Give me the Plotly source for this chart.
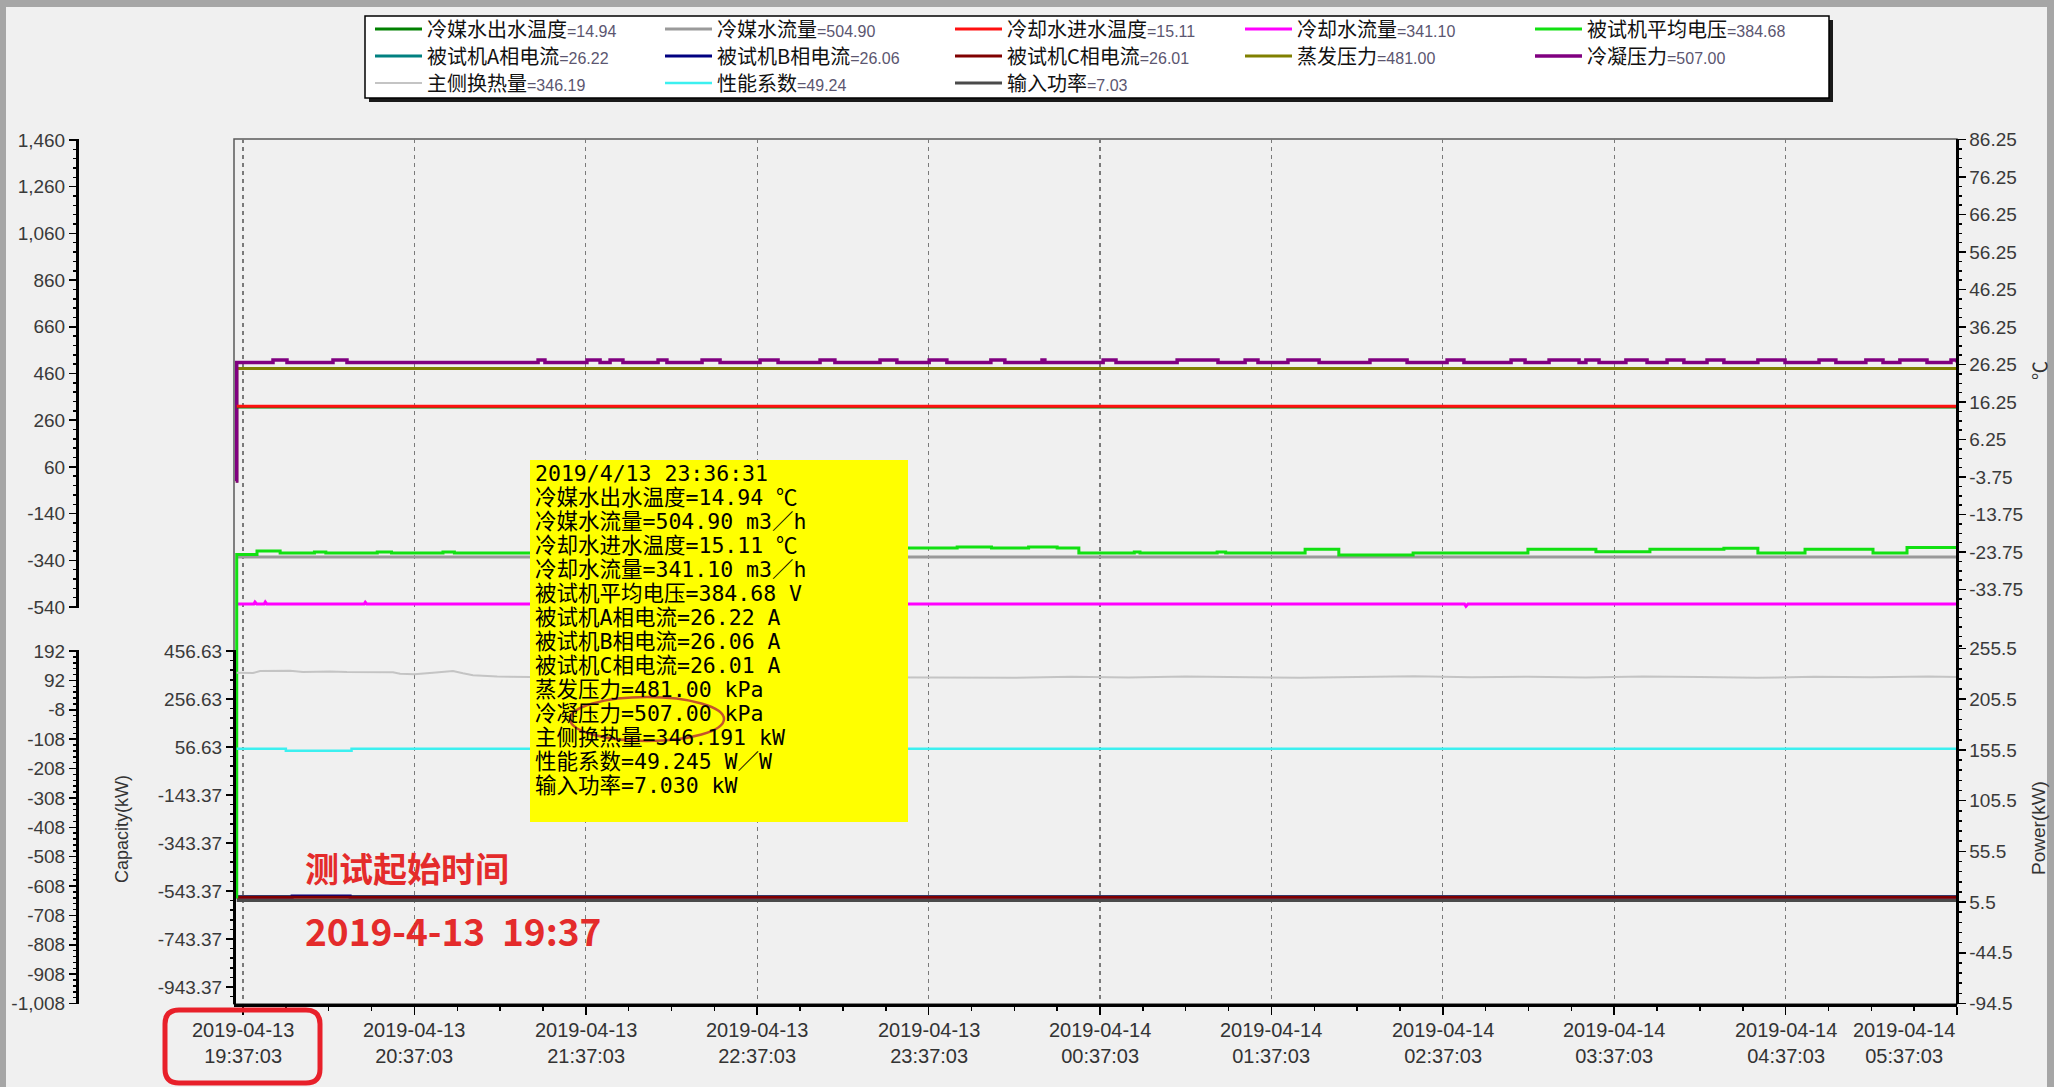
import pandas as pd
import plotly.graph_objects as go

# ---------------------------------------------------------------------------
# Data: chiller test log, 2019-04-13 19:37 to 2019-04-14 05:37
# time is given in minutes after 2019-04-13 19:37:03
# ---------------------------------------------------------------------------
START = pd.Timestamp("2019-04-13 19:37:03")

names = ["冷媒水出水温度", "冷媒水流量", "冷却水进水温度", "冷却水流量", "被试机平均电压",
         "被试机A相电流", "被试机B相电流", "被试机C相电流", "蒸发压力", "冷凝压力",
         "主侧换热量", "性能系数", "输入功率"]
units = ["℃", "m3／h", "℃", "m3／h", "V", "A", "A", "A", "kPa", "kPa", "kW", "W／W", "kW"]
# readout at the cursor time
cursor_time = "2019/4/13 23:36:31"
cursor_min = 239.47
cursor_vals = [14.94, 504.90, 15.11, 341.10, 384.68, 26.22, 26.06, 26.01,
               481.00, 507.00, 346.191, 49.245, 7.030]
cursor_decimals = [2, 2, 2, 2, 2, 2, 2, 2, 2, 2, 3, 3, 3]

chw_out_min = [-2.2, 600]
chw_out_c = [14.94, 14.94]

chw_flow_min = [-2.2, 600]
chw_flow = [504.90, 504.90]

cw_in_min = [-2.2, 600]
cw_in_c = [15.11, 15.11]

cw_flow_min = [-2.2, 3.8, 4.2, 4.8, 7.4, 7.8, 8.3, 42.4, 42.8, 43.3, 427.6, 428.1, 428.8, 600]
cw_flow = [341.1, 341.1, 348.0, 341.1, 341.1, 348.0, 341.1, 341.1, 347.0, 341.1,
           341.1, 333.0, 341.1, 341.1]

volt_min = [-2.55, -2.2, 4.9, 13.0, 25, 29, 47, 52, 70, 74, 180, 250, 262, 275, 285,
            292.6, 312, 314, 341, 344, 371.8, 383.6, 409.6, 449.8, 473.6, 492.5,
            518.4, 530.3, 546.8, 570.6, 582.5, 600]
volt_v = [0, 377.5, 381.4, 379.1, 380.2, 379.1, 380.2, 379.1, 380.2, 379.1, 384.68,
          385.8, 384.68, 385.8, 384.68, 379.1, 380.2, 379.1, 380.2, 379.1, 383.2,
          376.9, 379.1, 383.2, 380.6, 383.2, 384.4, 379.1, 383.2, 379.1, 385.1, 385.1]

amp_a_min = [-2.2, 600]
amp_a = [26.22, 26.22]
amp_b_min = [-2.2, 17.2, 37.5, 600]
amp_b = [26.06, 26.45, 26.06, 26.06]
amp_c_min = [-2.2, 600]
amp_c = [26.01, 26.01]

evap_min = [-2.55, -2.2, 600]
evap_kpa = [0, 481.0, 481.0]

cond_min = [-2.55, -2.2,
            10.5, 15.4, 31.5, 36.4, 103.3, 105.7, 120.4, 125.0, 128.5, 133.0,
            145.3, 148.4, 160.7, 167.0, 181.0, 187.3, 202.0, 207.2, 223.0, 228.9,
            240.2, 246.4, 261.8, 266.7, 279.7, 280.7, 301.1, 305.6, 327.0, 341.3,
            350.8, 355.3, 365.8, 376.7, 394.5, 407.5, 421.5, 427.4, 443.9, 448.8,
            457.2, 467.7, 470.1, 474.7, 484.1, 491.5, 498.5, 504.4, 512.5, 518.4,
            530.3, 539.8, 551.7, 557.6, 568.1, 574.1, 580.0, 589.5, 597.9, 600]
cond_kpa = [0, 507] + [518, 507] * 30

heat_min = [-2.2, 3.5, 6, 16.5, 21, 30.5, 36.4, 52.5, 55, 60, 66.5, 73.5, 77, 80.5, 89,
            100.5, 160, 233, 239.47, 250, 270, 290, 310, 330, 350, 370, 390, 410,
            430, 450, 470, 490, 510, 530, 550, 570, 590, 600]
heat_kw = [366, 365, 373, 374, 369, 371, 369, 368, 362, 360, 366, 373, 364, 356, 350,
           348, 349, 347, 346.191, 348, 345, 349, 346, 350, 347, 345, 348, 351,
           347, 349, 346, 350, 348, 345, 349, 347, 350, 348]

cop_min = [-2.2, 15, 38, 600]
cop = [49.245, 40.8, 49.245, 49.245]

power_min = [-2.2, 600]
power_kw = [7.03, 7.03]

# axis tick values
pressure_ticks = [1460, 1260, 1060, 860, 660, 460, 260, 60, -140, -340, -540]
flow_ticks = [192, 92, -8, -108, -208, -308, -408, -508, -608, -708, -808, -908, -1008]
capacity_ticks = [456.63, 256.63, 56.63, -143.37, -343.37, -543.37, -743.37, -943.37]
temp_ticks = [86.25, 76.25, 66.25, 56.25, 46.25, 36.25, 26.25, 16.25, 6.25,
              -3.75, -13.75, -23.75, -33.75]
power_ticks = [255.5, 205.5, 155.5, 105.5, 55.5, 5.5, -44.5, -94.5]
time_tick_hours = [0, 1, 2, 3, 4, 5, 6, 7, 8, 9, 10]
time_tick_labels = ["2019-04-13<br>19:37:03", "2019-04-13<br>20:37:03",
                    "2019-04-13<br>21:37:03", "2019-04-13<br>22:37:03",
                    "2019-04-13<br>23:37:03", "2019-04-14<br>00:37:03",
                    "2019-04-14<br>01:37:03", "2019-04-14<br>02:37:03",
                    "2019-04-14<br>03:37:03", "2019-04-14<br>04:37:03",
                    "2019-04-14<br>05:37:03"]

colors = ["#008000", "#9A9A9A", "#FF1010", "#FF00FF", "#11E011", "#008080",
          "#000080", "#800000", "#808000", "#800080", "#C4C4C4", "#3CF0F0", "#4A4A4A"]

# ---------------------------------------------------------------------------
# Page geometry (pixels) -> paper fractions
# ---------------------------------------------------------------------------
W, H = 2054, 1087
PL, PR, PT, PB = 234, 1957, 139, 1004
GRID0 = 243                      # x of the 19:37:03 grid line
PX_PER_HOUR = (PR - GRID0) / 10


def fx(px):
    return px / W


def fy(py):
    return 1 - py / H


def at(minutes):
    return [START + pd.Timedelta(minutes=m) for m in minutes]


def span(v0, p0, k, ptop, pbot):
    """Axis range for a scale where value v0 sits at pixel p0, k pixels per unit."""
    return [v0 - (pbot - p0) / k, v0 + (p0 - ptop) / k]


x_left = START + pd.Timedelta(minutes=(PL - GRID0) / PX_PER_HOUR * 60)
x_right = START + pd.Timedelta(minutes=600)

fig = go.Figure()

series = [
    (chw_out_min, chw_out_c, "x2", "y7", 3, "hv", "legend"),
    (chw_flow_min, chw_flow, "x", "y", 3, "hv", "legend"),
    (cw_in_min, cw_in_c, "x2", "y7", 3, "hv", "legend"),
    (cw_flow_min, cw_flow, "x", "y", 3, "linear", "legend"),
    (volt_min, volt_v, "x", "y3", 3, "hv", "legend"),
    (amp_a_min, amp_a, "x", "y2", 3, "hv", "legend2"),
    (amp_b_min, amp_b, "x", "y2", 3, "hv", "legend2"),
    (amp_c_min, amp_c, "x", "y2", 3, "hv", "legend2"),
    (evap_min, evap_kpa, "x2", "y4", 3, "hv", "legend2"),
    (cond_min, cond_kpa, "x2", "y4", 3.5, "hv", "legend2"),
    (heat_min, heat_kw, "x2", "y6", 2, "linear", "legend3"),
    (cop_min, cop, "x2", "y6", 2.5, "hv", "legend3"),
    (power_min, power_kw, "x2", "y8", 3, "hv", "legend3"),
]

for i, (tm, vals, xa, ya, lw, shape, leg) in enumerate(series):
    label = (f"{names[i]}<span style='font-family:Liberation Sans;font-size:16px;"
             f"color:#5b5670'>={cursor_vals[i]:.2f}</span>")
    fig.add_trace(go.Scatter(
        x=at(tm), y=vals, mode="lines", name=label,
        line=dict(color=colors[i], width=lw, shape=shape),
        xaxis=xa, yaxis=ya, legend=leg, hoverinfo="skip",
    ))

# flow scale carries no trace of its own inside its band; keep the subplot alive
fig.add_trace(go.Scatter(x=[START], y=[None], mode="lines", xaxis="x2", yaxis="y5",
                         showlegend=False, hoverinfo="skip"))

tick_font = dict(family="Liberation Sans, Arial", size=19, color="#3a3a3a")


def fmt_list(vals, f):
    return [format(v, f) for v in vals]


common_y = dict(showgrid=False, zeroline=False, showline=True, linecolor="#000000",
                ticks="outside", tickcolor="#000000", tickwidth=1.5, ticklen=7,
                tickfont=tick_font, tickmode="array", automargin=False, fixedrange=True)

layout = dict(
    width=W, height=H, template="none",
    margin=dict(l=0, r=0, t=0, b=0, pad=0),
    paper_bgcolor="#F0F0F0", plot_bgcolor="rgba(0,0,0,0)",
    hovermode=False,
    xaxis=dict(
        domain=[fx(PL), fx(PR)], range=[x_left, x_right], type="date", anchor="y",
        showgrid=True, gridcolor="#7a7a7a", gridwidth=1.3, griddash="4px,4px",
        tickmode="array", tickvals=at([h * 60 for h in time_tick_hours]),
        showticklabels=False, ticks="outside", ticklen=8, tickwidth=1.5,
        tickcolor="#000000", showline=True, linecolor="#000000", linewidth=3,
        zeroline=False, automargin=False, fixedrange=True,
        minor=dict(dtick=15 * 60 * 1000, tick0=START, ticks="outside", ticklen=4,
                   tickcolor="#000000", showgrid=False),
    ),
    xaxis2=dict(domain=[fx(PL), fx(PR)], range=[x_left, x_right], type="date",
                overlaying="x", visible=False, showgrid=False, fixedrange=True),
    # hidden scales: flows, phase currents, voltage
    yaxis=dict(domain=[fy(PB), fy(PT)], range=span(504.9, 557, 0.28694, PT, PB),
               anchor="x", visible=False, showgrid=False, fixedrange=True),
    yaxis2=dict(overlaying="y", range=span(26.1, 897, 3.0, PT, PB), visible=False,
                showgrid=False, fixedrange=True),
    yaxis3=dict(overlaying="y", range=span(0, 897, 0.9073, PT, PB), visible=False,
                showgrid=False, fixedrange=True),
    # pressure scale (outer left, upper)
    yaxis4=dict(domain=[fy(608), fy(PT)], anchor="free", position=fx(77), side="left",
                range=span(1460, 140, 0.2335, PT, 608), linewidth=2.5,
                tickvals=pressure_ticks, ticktext=fmt_list(pressure_ticks, ",.0f"),
                minor=dict(dtick=40, tick0=60, ticks="outside", ticklen=3,
                           tickcolor="#000000"),
                **common_y),
    # flow scale (outer left, lower)
    yaxis5=dict(domain=[fy(PB), fy(650)], anchor="free", position=fx(77), side="left",
                range=span(192, 651, 0.29375, 650, PB), linewidth=2.5,
                tickvals=flow_ticks, ticktext=fmt_list(flow_ticks, ",.0f"),
                minor=dict(dtick=20, tick0=192, ticks="outside", ticklen=3,
                           tickcolor="#000000"),
                **common_y),
    # capacity scale (inner left)
    yaxis6=dict(domain=[fy(PB), fy(650)], anchor="free", position=fx(PL), side="left",
                range=span(456.63, 651, 0.24, 650, PB), linewidth=3,
                tickvals=capacity_ticks, ticktext=fmt_list(capacity_ticks, ".2f"),
                minor=dict(dtick=40, tick0=56.63, ticks="outside", ticklen=3,
                           tickcolor="#000000"),
                **common_y),
    # temperature scale (right, upper)
    yaxis7=dict(domain=[fy(648), fy(PT)], anchor="free", position=fx(PR), side="right",
                range=span(86.25, 139.5, 3.75, PT, 648), linewidth=2.5,
                tickvals=temp_ticks, ticktext=fmt_list(temp_ticks, ".2f"),
                minor=dict(dtick=2.5, tick0=6.25, ticks="outside", ticklen=3,
                           tickcolor="#000000"),
                **common_y),
    # power scale (right, lower)
    yaxis8=dict(domain=[fy(PB), fy(648)], anchor="free", position=fx(PR), side="right",
                range=span(255.5, 648.5, 1.01429, 648, PB), linewidth=2.5,
                tickvals=power_ticks, ticktext=fmt_list(power_ticks, ".1f"),
                minor=dict(dtick=10, tick0=5.5, ticks="outside", ticklen=3,
                           tickcolor="#000000"),
                **common_y),
)

legend_common = dict(orientation="h", bgcolor="rgba(0,0,0,0)", borderwidth=0,
                     font=dict(family="Noto Sans CJK SC", size=20, color="#111111"),
                     itemwidth=47, entrywidth=228, entrywidthmode="pixels",
                     xanchor="left", yanchor="middle",
                     itemclick=False, itemdoubleclick=False)
layout["legend"] = dict(x=fx(370), y=fy(29), **legend_common)
layout["legend2"] = dict(x=fx(370), y=fy(56), **legend_common)
layout["legend3"] = dict(x=fx(370), y=fy(83), **legend_common)

fig.update_layout(**layout)

# ---------------------------------------------------------------------------
# Decorations: window frame, legend box, plot frame, cursor readout
# ---------------------------------------------------------------------------
shapes = [
    # window frame strips
    dict(type="rect", xref="paper", yref="paper", x0=0, x1=1, y0=fy(7), y1=1,
         fillcolor="#A6A6A6", line=dict(width=0), layer="below"),
    dict(type="rect", xref="paper", yref="paper", x0=0, x1=fx(6), y0=0, y1=1,
         fillcolor="#A6A6A6", line=dict(width=0), layer="below"),
    dict(type="rect", xref="paper", yref="paper", x0=fx(2047), x1=1, y0=0, y1=1,
         fillcolor="#A6A6A6", line=dict(width=0), layer="below"),
    # legend box with drop shadow
    dict(type="rect", xref="paper", yref="paper", x0=fx(369), x1=fx(1833),
         y0=fy(102), y1=fy(20), fillcolor="#1a1a1a", line=dict(width=0), layer="below"),
    dict(type="rect", xref="paper", yref="paper", x0=fx(365), x1=fx(1829),
         y0=fy(98), y1=fy(16), fillcolor="#FFFFFF",
         line=dict(color="#000000", width=1.5), layer="below"),
    # plot frame
    dict(type="rect", xref="paper", yref="paper", x0=fx(PL), x1=fx(PR),
         y0=fy(PB), y1=fy(PT), line=dict(color="#5a5a5a", width=1.5), layer="below"),
    # cursor readout panel
    dict(type="rect", xref="paper", yref="paper", x0=fx(530), x1=fx(908),
         y0=fy(822), y1=fy(460), fillcolor="#FFFF00", line=dict(width=0), layer="above"),
    dict(type="circle", xref="paper", yref="paper", x0=fx(570), x1=fx(724),
         y0=fy(741), y1=fy(697), line=dict(color="#C4542C", width=2.5), layer="above"),
]

# rounded red frame around the first time label
rx0, rx1, ry0, ry1, r = 165, 320, 1010, 1083, 14
path = (f"M {fx(rx0 + r)},{fy(ry0)} L {fx(rx1 - r)},{fy(ry0)} "
        f"Q {fx(rx1)},{fy(ry0)} {fx(rx1)},{fy(ry0 + r)} L {fx(rx1)},{fy(ry1 - r)} "
        f"Q {fx(rx1)},{fy(ry1)} {fx(rx1 - r)},{fy(ry1)} L {fx(rx0 + r)},{fy(ry1)} "
        f"Q {fx(rx0)},{fy(ry1)} {fx(rx0)},{fy(ry1 - r)} L {fx(rx0)},{fy(ry0 + r)} "
        f"Q {fx(rx0)},{fy(ry0)} {fx(rx0 + r)},{fy(ry0)} Z")
shapes.append(dict(type="path", xref="paper", yref="paper", path=path,
                   line=dict(color="#E8202A", width=5), layer="above"))
fig.update_layout(shapes=shapes)

annotations = []

# time axis labels
for k, (h, txt) in enumerate(zip(time_tick_hours, time_tick_labels)):
    last = k == len(time_tick_hours) - 1
    annotations.append(dict(
        x=START + pd.Timedelta(hours=h), xref="x", y=fy(1017), yref="paper",
        text=txt, showarrow=False, xanchor="right" if last else "center",
        yanchor="top", align="center",
        font=dict(family="Liberation Sans, Arial", size=20, color="#333333")))

# axis titles
annotations += [
    dict(x=fx(122), y=fy(829), xref="paper", yref="paper", text="Capacity(kW)",
         textangle=-90, showarrow=False, xanchor="center", yanchor="middle",
         font=dict(family="Liberation Sans, Arial", size=18, color="#333333")),
    dict(x=fx(2038), y=fy(828), xref="paper", yref="paper", text="Power(kW)",
         textangle=-90, showarrow=False, xanchor="center", yanchor="middle",
         font=dict(family="Liberation Sans, Arial", size=19, color="#333333")),
    dict(x=fx(2038), y=fy(371), xref="paper", yref="paper", text="℃",
         textangle=-90, showarrow=False, xanchor="center", yanchor="middle",
         font=dict(family="Noto Sans CJK SC", size=19, color="#333333")),
]

# cursor readout text
box_lines = [cursor_time] + [
    f"{n}={v:.{d}f} {u}" for n, v, d, u in zip(names, cursor_vals, cursor_decimals, units)
]
for i, line in enumerate(box_lines):
    annotations.append(dict(
        x=fx(533), y=fy(473 + 24 * i), xref="paper", yref="paper", text=line,
        showarrow=False, xanchor="left", yanchor="middle",
        font=dict(family="DejaVu Sans Mono, Noto Sans CJK SC", size=21.5,
                  color="#000000")))

# test start note
annotations += [
    dict(x=fx(303), y=fy(867), xref="paper", yref="paper", text="<b>测试起始时间</b>",
         showarrow=False, xanchor="left", yanchor="middle",
         font=dict(family="Noto Sans CJK SC", size=34, color="#E42B2B")),
    dict(x=fx(303), y=fy(930), xref="paper", yref="paper",
         text="<b>2019-4-13\u00a0\u00a019:37</b>",
         showarrow=False, xanchor="left", yanchor="middle",
         font=dict(family="Noto Sans CJK SC", size=37, color="#E42B2B")),
]
fig.update_layout(annotations=annotations)

fig.write_html("out.html", include_plotlyjs=True,
               config={"displayModeBar": False, "staticPlot": True})
